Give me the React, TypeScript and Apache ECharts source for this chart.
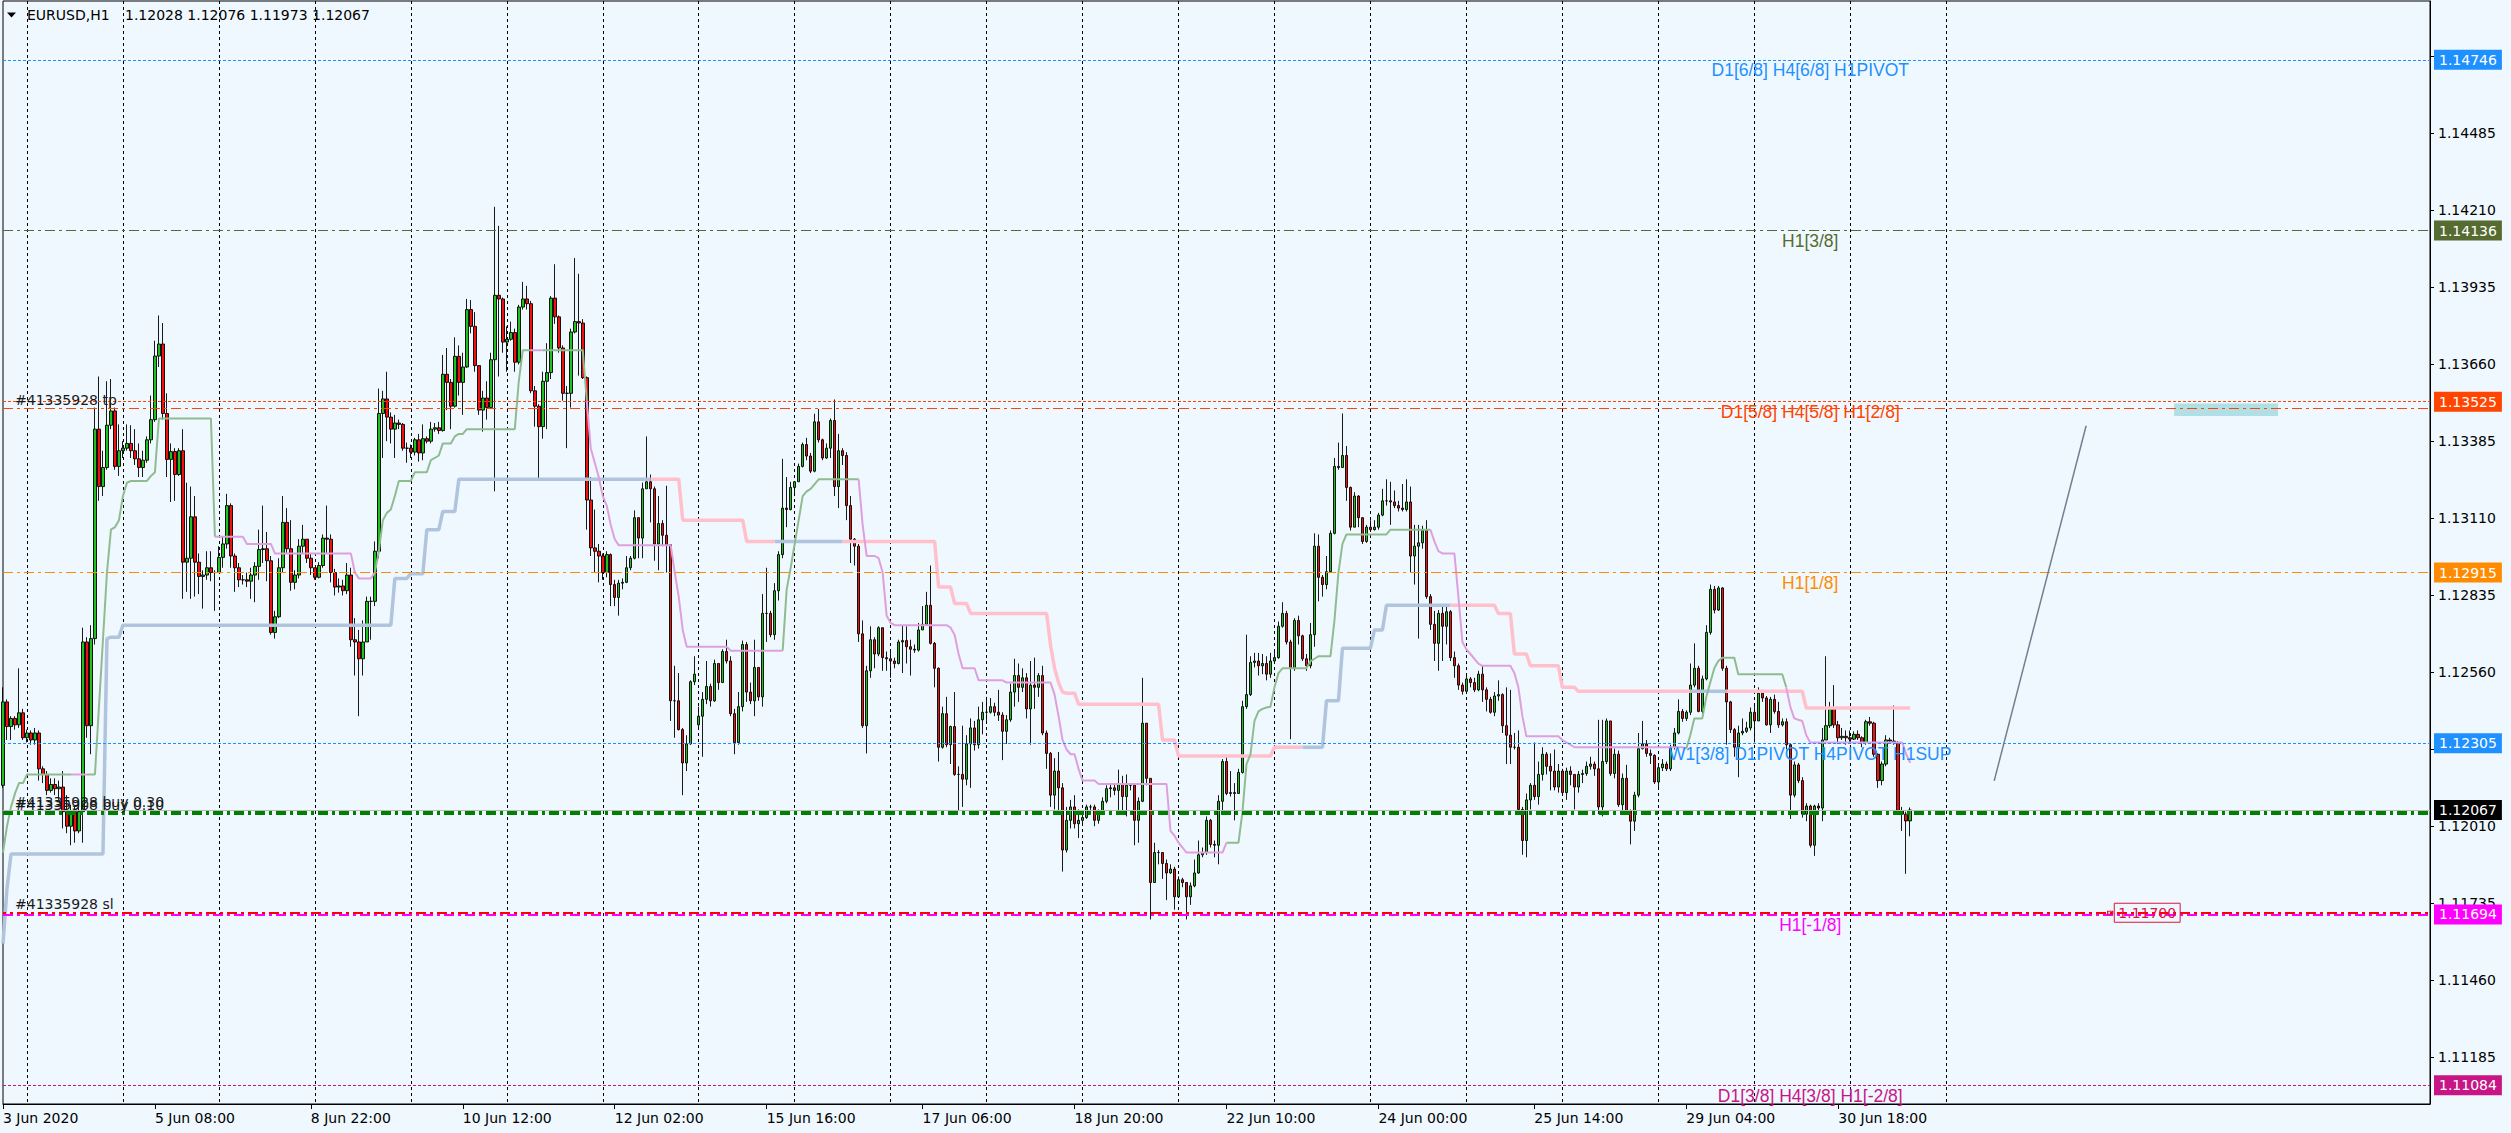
import React, { useEffect, useRef } from 'react';
import * as echarts from 'echarts';

const FONT = "'DejaVu Sans', sans-serif";
const LABEL_FONT = "'Liberation Sans', Arial, sans-serif";

// ---------------- data ----------------
const symbolName = 'EURUSD,H1';
const firstOpen = 1.12155;
const gapOpens: Record<number, number> = { 174: 1.12371 };

const closes = [
  1.12453, 1.12365, 1.12394, 1.12371, 1.12414, 1.12325, 1.12342, 1.12317, 1.12342, 1.12214,
  1.12194, 1.12137, 1.12158, 1.12143, 1.12149, 1.12061, 1.12009, 1.12061, 1.11992, 1.12061,
  1.12667, 1.12368, 1.12679, 1.13427, 1.13222, 1.13290, 1.13441, 1.13492, 1.13294, 1.13350,
  1.13359, 1.13376, 1.13350, 1.13321, 1.13290, 1.13316, 1.13389, 1.13461, 1.13688, 1.13731,
  1.13483, 1.13319, 1.13347, 1.13265, 1.13350, 1.12952, 1.12966, 1.13114, 1.12952, 1.12901,
  1.12906, 1.12932, 1.12915, 1.12915, 1.12969, 1.13017, 1.13154, 1.12974, 1.12932, 1.12889,
  1.12889, 1.12884, 1.12906, 1.12937, 1.12997, 1.13000, 1.12957, 1.12701, 1.12757, 1.12932,
  1.13094, 1.13000, 1.12880, 1.12906, 1.13009, 1.13034, 1.12966, 1.12932, 1.12898, 1.12940,
  1.13038, 1.13034, 1.12915, 1.12863, 1.12867, 1.12850, 1.12906, 1.12675, 1.12667, 1.12607,
  1.12667, 1.12812, 1.12812, 1.12991, 1.13483, 1.13535, 1.13470, 1.13427, 1.13449, 1.13444,
  1.13359, 1.13359, 1.13345, 1.13389, 1.13342, 1.13393, 1.13384, 1.13427, 1.13432, 1.13422,
  1.13623, 1.13594, 1.13509, 1.13687, 1.13594, 1.13649, 1.13854, 1.13794, 1.13654, 1.13495,
  1.13538, 1.13504,
  1.13675, 1.13905, 1.13892, 1.13738, 1.13748, 1.13772, 1.13666, 1.13863, 1.13892, 1.13875,
  1.13564, 1.13509, 1.13436, 1.13598, 1.13629, 1.13895, 1.13828, 1.13717, 1.13555, 1.13555,
  1.13774, 1.13811, 1.13806, 1.13611, 1.13174, 1.13003, 1.12991, 1.12974, 1.12915, 1.12979,
  1.12872, 1.12826, 1.12877, 1.12880, 1.12932, 1.12966, 1.13111, 1.13038, 1.13214, 1.13239,
  1.13214, 1.13017, 1.13090, 1.13048, 1.13014, 1.12457, 1.12457, 1.12354, 1.12235, 1.12303,
  1.12525, 1.12552, 1.12402, 1.12462, 1.12508, 1.12457, 1.12590, 1.12522, 1.12633, 1.12599,
  1.12411, 1.12308, 1.12436, 1.12658, 1.12488, 1.12457, 1.12576, 1.12471, 1.12769, 1.12769,
  1.12693, 1.12850, 1.12979, 1.13145, 1.13140, 1.13219, 1.13239, 1.13294, 1.13372, 1.13331,
  1.13277, 1.13453, 1.13389, 1.13324, 1.13359, 1.13458, 1.13222, 1.13350, 1.13333, 1.13154,
  1.13034, 1.13009, 1.12696, 1.12368, 1.12564, 1.12675, 1.12624, 1.12718, 1.12611, 1.12607,
  1.12599, 1.12590, 1.12667, 1.12672, 1.12650, 1.12641, 1.12638, 1.12710, 1.12730, 1.12798,
  1.12662, 1.12573, 1.12291, 1.12411, 1.12300, 1.12365, 1.12194, 1.12194, 1.12177, 1.12303,
  1.12360, 1.12300, 1.12389, 1.12416, 1.12416, 1.12436, 1.12416, 1.12406, 1.12348, 1.12389,
  1.12488, 1.12547, 1.12505, 1.12539, 1.12428, 1.12513, 1.12505, 1.12547, 1.12342, 1.12269,
  1.12120, 1.12206, 1.12146, 1.11924, 1.12030, 1.12078, 1.12018, 1.12030, 1.12040, 1.12078,
  1.12078, 1.12030, 1.12061, 1.12098, 1.12143, 1.12146, 1.12137, 1.12160, 1.12115, 1.12155,
  1.12155, 1.12030, 1.12098, 1.12377, 1.12180, 1.11808, 1.11915, 1.11915, 1.11876, 1.11842,
  1.11856, 1.11757, 1.11818, 1.11808, 1.11757, 1.11796, 1.11842, 1.11907, 1.11915, 1.12030,
  1.11944, 1.11941, 1.12098, 1.12240, 1.12126, 1.12129, 1.12126, 1.12201, 1.12436, 1.12479,
  1.12594, 1.12599, 1.12582, 1.12590, 1.12552, 1.12599, 1.12611, 1.12723, 1.12769, 1.12667,
  1.12573, 1.12744, 1.12689, 1.12607, 1.12582, 1.12693, 1.13009, 1.12898, 1.12872, 1.12918,
  1.13055, 1.13294, 1.13290, 1.13333, 1.13219, 1.13077, 1.13188, 1.13111, 1.13026, 1.13077,
  1.13068, 1.13077, 1.13120, 1.13171, 1.13171, 1.13167, 1.13154, 1.13145, 1.13140, 1.13167,
  1.12974, 1.13009, 1.13021, 1.13065, 1.12829, 1.12730, 1.12662, 1.12769, 1.12723, 1.12775,
  1.12611, 1.12582, 1.12513, 1.12491, 1.12535, 1.12522, 1.12496, 1.12552, 1.12496, 1.12462,
  1.12416, 1.12474, 1.12479, 1.12368, 1.12334, 1.12291, 1.12291, 1.12069, 1.11958, 1.12103,
  1.12155, 1.12115, 1.12194, 1.12266, 1.12223, 1.12206, 1.12149, 1.12206, 1.12129, 1.12206,
  1.12194, 1.12149, 1.12194, 1.12197, 1.12223, 1.12231, 1.12214, 1.12078, 1.12240, 1.12385,
  1.12197, 1.12266, 1.12086, 1.12180, 1.12064, 1.12027, 1.12120, 1.12286, 1.12303, 1.12269,
  1.12262, 1.12167, 1.12218, 1.12231, 1.12214, 1.12291, 1.12342, 1.12419, 1.12394, 1.12416,
  1.12513, 1.12573, 1.12419, 1.12535, 1.12701, 1.12855, 1.12781, 1.12860, 1.12573, 1.12453,
  1.12354, 1.12291, 1.12342, 1.12348, 1.12360, 1.12416, 1.12385, 1.12484, 1.12467, 1.12371,
  1.12462, 1.12419, 1.12371, 1.12382, 1.12300, 1.12120, 1.12228, 1.12172, 1.12052, 1.12081,
  1.11941, 1.12081, 1.12074, 1.12317, 1.12368, 1.12428, 1.12371, 1.12325, 1.12330, 1.12325,
  1.12320, 1.12337, 1.12325, 1.12308, 1.12382, 1.12377, 1.12266, 1.12172, 1.12231, 1.12317,
  1.12313, 1.12308, 1.12064, 1.12052, 1.12028, 1.12067,
];

const highs = [
  1.12505, 1.12462, 1.12402, 1.12402, 1.12573, 1.12428, 1.12354, 1.12351, 1.12360, 1.12351,
  1.12223, 1.12206, 1.12180, 1.12180, 1.12172, 1.12206, 1.12120, 1.12086, 1.12078, 1.12086,
  1.12718, 1.12684, 1.12727, 1.13504, 1.13615, 1.13350, 1.13598, 1.13606, 1.13504, 1.13444,
  1.13384, 1.13444, 1.13441, 1.13427, 1.13376, 1.13350, 1.13401, 1.13547, 1.13743, 1.13833,
  1.13806, 1.13555, 1.13376, 1.13359, 1.13359, 1.13427, 1.13236, 1.13222, 1.13188, 1.12983,
  1.12923, 1.12991, 1.12991, 1.12923, 1.13009, 1.13043, 1.13196, 1.13162, 1.12983, 1.12949,
  1.12906, 1.12915, 1.12932, 1.12952, 1.13068, 1.13154, 1.13060, 1.12974, 1.12778, 1.12966,
  1.13188, 1.13145, 1.13102, 1.12923, 1.13034, 1.13085, 1.13031, 1.12983, 1.12923, 1.12952,
  1.13051, 1.13154, 1.13051, 1.12928, 1.12894, 1.12889, 1.12949, 1.12932, 1.12752, 1.12710,
  1.12744, 1.12829, 1.12829, 1.13026, 1.13572, 1.13564, 1.13632, 1.13487, 1.13478, 1.13461,
  1.13449, 1.13379, 1.13372, 1.13396, 1.13410, 1.13444, 1.13401, 1.13453, 1.13449, 1.13453,
  1.13692, 1.13717, 1.13606, 1.13755, 1.13726, 1.13700, 1.13892, 1.13888, 1.13845, 1.13598,
  1.13564, 1.13598,
  1.13700, 1.14221, 1.14153, 1.13897, 1.13794, 1.13811, 1.13786, 1.13871, 1.13953, 1.13939,
  1.13885, 1.13581, 1.13516, 1.13632, 1.13734, 1.13902, 1.14016, 1.13833, 1.13726, 1.13581,
  1.13786, 1.14038, 1.13982, 1.13820, 1.13615, 1.13256, 1.13140, 1.13017, 1.12983, 1.12991,
  1.12983, 1.12889, 1.12889, 1.12894, 1.12974, 1.12974, 1.13137, 1.13111, 1.13236, 1.13401,
  1.13265, 1.13222, 1.13188, 1.13102, 1.13225, 1.13014, 1.12582, 1.12556, 1.12360, 1.12334,
  1.12530, 1.12616, 1.12436, 1.12488, 1.12599, 1.12518, 1.12604, 1.12590, 1.12641, 1.12675,
  1.12616, 1.12428, 1.12488, 1.12672, 1.12667, 1.12522, 1.12675, 1.12573, 1.12838, 1.12932,
  1.12778, 1.12877, 1.12991, 1.13321, 1.13256, 1.13239, 1.13242, 1.13304, 1.13379, 1.13396,
  1.13342, 1.13482, 1.13499, 1.13393, 1.13376, 1.13465, 1.13533, 1.13410, 1.13359, 1.13345,
  1.13188, 1.13038, 1.13017, 1.12744, 1.12582, 1.12723, 1.12684, 1.12723, 1.12718, 1.12633,
  1.12633, 1.12611, 1.12675, 1.12727, 1.12723, 1.12675, 1.12658, 1.12735, 1.12795, 1.12846,
  1.12940, 1.12667, 1.12576, 1.12436, 1.12471, 1.12368, 1.12488, 1.12223, 1.12368, 1.12334,
  1.12394, 1.12385, 1.12436, 1.12453, 1.12471, 1.12467, 1.12450, 1.12496, 1.12416, 1.12406,
  1.12518, 1.12607, 1.12590, 1.12573, 1.12556, 1.12599, 1.12611, 1.12556, 1.12582, 1.12351,
  1.12274, 1.12252, 1.12274, 1.12163, 1.12078, 1.12103, 1.12120, 1.12069, 1.12061, 1.12086,
  1.12086, 1.12086, 1.12069, 1.12112, 1.12155, 1.12163, 1.12163, 1.12211, 1.12189, 1.12194,
  1.12163, 1.12149, 1.12112, 1.12539, 1.12371, 1.12180, 1.11950, 1.11924, 1.11915, 1.11890,
  1.11873, 1.11864, 1.11830, 1.11825, 1.11804, 1.11808, 1.11890, 1.11958, 1.11933, 1.12044,
  1.12035, 1.11958, 1.12120, 1.12249, 1.12257, 1.12206, 1.12163, 1.12214, 1.12457, 1.12693,
  1.12616, 1.12628, 1.12628, 1.12624, 1.12616, 1.12628, 1.12641, 1.12740, 1.12809, 1.12778,
  1.12675, 1.12752, 1.12761, 1.12693, 1.12624, 1.12735, 1.13055, 1.13051, 1.12906, 1.12974,
  1.13065, 1.13324, 1.13379, 1.13483, 1.13367, 1.13222, 1.13202, 1.13191, 1.13111, 1.13085,
  1.13102, 1.13102, 1.13128, 1.13214, 1.13248, 1.13239, 1.13208, 1.13171, 1.13231, 1.13248,
  1.13222, 1.13085, 1.13085, 1.13082, 1.13102, 1.12838, 1.12778, 1.12781, 1.12795, 1.12798,
  1.12781, 1.12633, 1.12590, 1.12522, 1.12547, 1.12542, 1.12539, 1.12564, 1.12582, 1.12505,
  1.12471, 1.12488, 1.12530, 1.12484, 1.12505, 1.12496, 1.12342, 1.12351, 1.12078, 1.12126,
  1.12163, 1.12308, 1.12240, 1.12291, 1.12274, 1.12269, 1.12283, 1.12231, 1.12214, 1.12218,
  1.12223, 1.12180, 1.12206, 1.12211, 1.12240, 1.12257, 1.12240, 1.12389, 1.12389, 1.12394,
  1.12385, 1.12286, 1.12279, 1.12197, 1.12228, 1.12069, 1.12132, 1.12342, 1.12385, 1.12317,
  1.12283, 1.12266, 1.12231, 1.12249, 1.12240, 1.12300, 1.12360, 1.12462, 1.12428, 1.12423,
  1.12590, 1.12662, 1.12582, 1.12547, 1.12727, 1.12872, 1.12867, 1.12867, 1.12863, 1.12582,
  1.12457, 1.12360, 1.12368, 1.12394, 1.12382, 1.12433, 1.12445, 1.12505, 1.12496, 1.12474,
  1.12471, 1.12479, 1.12453, 1.12394, 1.12394, 1.12303, 1.12240, 1.12235, 1.12184, 1.12091,
  1.12086, 1.12086, 1.12091, 1.12360, 1.12616, 1.12453, 1.12513, 1.12385, 1.12360, 1.12351,
  1.12351, 1.12348, 1.12351, 1.12330, 1.12389, 1.12399, 1.12382, 1.12269, 1.12240, 1.12334,
  1.12325, 1.12440, 1.12313, 1.12078, 1.12061, 1.12076,
];

const lows = [
  1.12146, 1.12317, 1.12317, 1.12354, 1.12360, 1.12317, 1.12308, 1.12300, 1.12300, 1.12172,
  1.12163, 1.12120, 1.12129, 1.12120, 1.12103, 1.12001, 1.11984, 1.11941, 1.11950, 1.11984,
  1.11950, 1.12325, 1.12266, 1.12658, 1.13171, 1.13188, 1.13282, 1.13427, 1.13282, 1.13260,
  1.13324, 1.13350, 1.13324, 1.13299, 1.13256, 1.13256, 1.13307, 1.13376, 1.13453, 1.13649,
  1.13461, 1.13256, 1.13167, 1.13171, 1.13260, 1.12821, 1.12846, 1.12821, 1.12829, 1.12838,
  1.12786, 1.12889, 1.12884, 1.12778, 1.12932, 1.12932, 1.13000, 1.12932, 1.12846, 1.12863,
  1.12872, 1.12863, 1.12821, 1.12809, 1.12889, 1.12949, 1.12884, 1.12693, 1.12679, 1.12752,
  1.12915, 1.12983, 1.12850, 1.12855, 1.12894, 1.12983, 1.12949, 1.12906, 1.12889, 1.12894,
  1.12932, 1.12983, 1.12880, 1.12833, 1.12843, 1.12833, 1.12838, 1.12650, 1.12547, 1.12402,
  1.12547, 1.12667, 1.12675, 1.12795, 1.12966, 1.13324, 1.13384, 1.13376, 1.13324, 1.13427,
  1.13350, 1.13307, 1.13324, 1.13333, 1.13311, 1.13316, 1.13376, 1.13376, 1.13418, 1.13410,
  1.13418, 1.13495, 1.13427, 1.13504, 1.13547, 1.13478, 1.13646, 1.13769, 1.13632, 1.13478,
  1.13418, 1.13461,
  1.13512, 1.13205, 1.13615, 1.13700, 1.13632, 1.13743, 1.13632, 1.13658, 1.13854, 1.13854,
  1.13555, 1.13436, 1.13248, 1.13393, 1.13427, 1.13606, 1.13803, 1.13700, 1.13529, 1.13359,
  1.13504, 1.13769, 1.13618, 1.13606, 1.13068, 1.12974, 1.12915, 1.12880, 1.12889, 1.12898,
  1.12795, 1.12795, 1.12761, 1.12855, 1.12877, 1.12923, 1.12962, 1.12966, 1.12966, 1.13214,
  1.13094, 1.12957, 1.12923, 1.13009, 1.12915, 1.12385, 1.12325, 1.12351, 1.12120, 1.12206,
  1.12300, 1.12513, 1.12360, 1.12257, 1.12445, 1.12436, 1.12453, 1.12496, 1.12522, 1.12590,
  1.12402, 1.12266, 1.12300, 1.12419, 1.12453, 1.12445, 1.12402, 1.12457, 1.12436, 1.12667,
  1.12684, 1.12675, 1.12815, 1.12966, 1.13077, 1.13137, 1.13188, 1.13248, 1.13290, 1.13316,
  1.13270, 1.13273, 1.13379, 1.13316, 1.13321, 1.13324, 1.13188, 1.13145, 1.13299, 1.13102,
  1.12949, 1.12940, 1.12667, 1.12360, 1.12269, 1.12539, 1.12573, 1.12616, 1.12564, 1.12564,
  1.12539, 1.12573, 1.12587, 1.12556, 1.12590, 1.12547, 1.12628, 1.12633, 1.12710, 1.12727,
  1.12658, 1.12505, 1.12240, 1.12286, 1.12291, 1.12231, 1.12189, 1.12064, 1.12078, 1.12155,
  1.12146, 1.12279, 1.12286, 1.12337, 1.12385, 1.12411, 1.12402, 1.12385, 1.12245, 1.12303,
  1.12382, 1.12436, 1.12453, 1.12488, 1.12394, 1.12300, 1.12428, 1.12471, 1.12334, 1.12214,
  1.12078, 1.12069, 1.12061, 1.11847, 1.11915, 1.12001, 1.12001, 1.11967, 1.12018, 1.12035,
  1.12061, 1.12009, 1.12018, 1.12052, 1.12091, 1.12112, 1.12120, 1.12052, 1.12052, 1.12044,
  1.12137, 1.11941, 1.11950, 1.12095, 1.12155, 1.11676, 1.11808, 1.11873, 1.11821, 1.11745,
  1.11839, 1.11711, 1.11787, 1.11791, 1.11676, 1.11728, 1.11791, 1.11839, 1.11898, 1.11907,
  1.11933, 1.11898, 1.11873, 1.12061, 1.12120, 1.12115, 1.12030, 1.12126, 1.12197, 1.12428,
  1.12474, 1.12576, 1.12547, 1.12552, 1.12530, 1.12539, 1.12590, 1.12607, 1.12718, 1.12658,
  1.12320, 1.12564, 1.12658, 1.12599, 1.12564, 1.12573, 1.12650, 1.12812, 1.12829, 1.12855,
  1.12915, 1.13051, 1.13282, 1.13290, 1.13171, 1.13065, 1.13085, 1.13077, 1.13017, 1.13021,
  1.13060, 1.13065, 1.13068, 1.13116, 1.13154, 1.13085, 1.13145, 1.13133, 1.13133, 1.13133,
  1.12915, 1.12872, 1.12679, 1.13000, 1.12821, 1.12710, 1.12599, 1.12564, 1.12599, 1.12658,
  1.12599, 1.12539, 1.12496, 1.12479, 1.12496, 1.12505, 1.12488, 1.12491, 1.12453, 1.12419,
  1.12411, 1.12402, 1.12457, 1.12342, 1.12231, 1.12231, 1.12283, 1.12061, 1.11907, 1.11898,
  1.12069, 1.12103, 1.12086, 1.12172, 1.12194, 1.12137, 1.12137, 1.12129, 1.12120, 1.12103,
  1.12155, 1.12069, 1.12129, 1.12163, 1.12189, 1.12211, 1.12189, 1.12052, 1.12044, 1.12231,
  1.12189, 1.12180, 1.12078, 1.12061, 1.12052, 1.11944, 1.11992, 1.12112, 1.12283, 1.12257,
  1.12231, 1.12160, 1.12149, 1.12206, 1.12206, 1.12206, 1.12283, 1.12337, 1.12382, 1.12385,
  1.12406, 1.12505, 1.12416, 1.12411, 1.12530, 1.12693, 1.12769, 1.12778, 1.12564, 1.12300,
  1.12342, 1.12257, 1.12184, 1.12334, 1.12342, 1.12351, 1.12308, 1.12389, 1.12453, 1.12368,
  1.12342, 1.12411, 1.12360, 1.12365, 1.12283, 1.12035, 1.12112, 1.12163, 1.12040, 1.12027,
  1.11933, 1.11903, 1.12061, 1.12027, 1.12354, 1.12360, 1.12360, 1.12303, 1.12317, 1.12300,
  1.12308, 1.12317, 1.12317, 1.12291, 1.12300, 1.12368, 1.12257, 1.12146, 1.12155, 1.12223,
  1.12303, 1.12300, 1.12061, 1.11992, 1.11839, 1.11973,
];

// fast step indicator: [first bar, level, state u=support(green) d=resistance(plum)]
const fastRuns: [number, number, string][] = [
  [0, 1.11915, 'u'], [1, 1.12009, 'u'], [2, 1.12078, 'u'], [3, 1.12126, 'u'], [4, 1.12163, 'u'], [6, 1.12194, 'u'],
  [17, 1.12194, 'd'], [21, 1.12194, 'u'],
  [24, 1.12436, 'u'], [25, 1.12675, 'u'], [26, 1.12915, 'u'], [27, 1.13068, 'u'], [28, 1.13077, 'u'], [29, 1.13102, 'u'],
  [30, 1.13188, 'u'], [31, 1.13236, 'u'], [32, 1.13242, 'u'], [37, 1.1326, 'u'], [38, 1.13273, 'u'], [39, 1.13465, 'u'],
  [53, 1.13043, 'd'], [61, 1.13017, 'd'], [68, 1.12983, 'd'], [88, 1.12915, 'd'], [89, 1.12894, 'd'],
  [93, 1.12915, 'u'], [94, 1.12991, 'u'], [95, 1.13102, 'u'], [96, 1.13128, 'u'], [97, 1.1314, 'u'], [98, 1.13188, 'u'],
  [99, 1.13242, 'u'], [103, 1.13273, 'u'], [107, 1.13316, 'u'], [108, 1.13324, 'u'], [109, 1.13333, 'u'], [110, 1.13376, 'u'],
  [113, 1.13401, 'u'], [114, 1.1341, 'u'], [116, 1.13427, 'u'], [129, 1.13598, 'u'], [130, 1.13709, 'u'],
  [132, 1.13709, 'd'], [135, 1.13709, 'u'],
  [146, 1.1353, 'd'], [147, 1.13359, 'd'], [148, 1.13307, 'd'], [149, 1.13256, 'd'], [150, 1.13188, 'd'], [151, 1.13154, 'd'],
  [152, 1.13085, 'd'], [153, 1.13034, 'd'], [154, 1.13012, 'd'], [168, 1.12915, 'd'], [169, 1.12829, 'd'], [170, 1.1271, 'd'],
  [171, 1.1265, 'd'], [182, 1.12636, 'd'],
  [195, 1.12636, 'u'], [196, 1.12855, 'u'], [197, 1.12932, 'u'], [198, 1.13017, 'u'], [199, 1.13102, 'u'], [200, 1.13188, 'u'],
  [201, 1.13205, 'u'], [202, 1.13214, 'u'], [203, 1.13231, 'u'], [204, 1.13248, 'u'],
  [214, 1.13248, 'd'], [215, 1.13085, 'd'], [216, 1.12974, 'd'], [219, 1.12966, 'd'], [220, 1.12915, 'd'], [221, 1.12761, 'd'],
  [222, 1.12735, 'd'], [223, 1.12727, 'd'], [237, 1.12718, 'd'], [238, 1.12693, 'd'], [239, 1.12624, 'd'], [240, 1.12573, 'd'],
  [244, 1.1253, 'd'], [251, 1.12522, 'd'], [263, 1.12479, 'd'], [264, 1.12402, 'd'], [265, 1.12317, 'd'], [266, 1.12283, 'd'],
  [267, 1.12266, 'd'], [269, 1.12214, 'd'], [270, 1.12172, 'd'], [274, 1.1216, 'd'], [292, 1.11992, 'd'], [293, 1.11975, 'd'],
  [294, 1.1195, 'd'], [295, 1.11933, 'd'], [296, 1.11915, 'd'],
  [306, 1.1195, 'u'], [310, 1.12061, 'u'], [311, 1.12231, 'u'], [312, 1.12266, 'u'], [313, 1.12385, 'u'], [314, 1.12419, 'u'],
  [315, 1.12428, 'u'], [316, 1.12433, 'u'], [317, 1.12436, 'u'], [318, 1.12505, 'u'], [319, 1.12556, 'u'], [320, 1.12573, 'u'],
  [327, 1.12599, 'u'], [328, 1.12607, 'u'], [329, 1.12616, 'u'], [333, 1.12744, 'u'], [334, 1.12915, 'u'], [335, 1.13017, 'u'],
  [336, 1.13051, 'u'], [347, 1.13068, 'u'],
  [357, 1.13068, 'd'], [358, 1.13026, 'd'], [359, 1.12991, 'd'], [360, 1.12983, 'd'], [364, 1.12829, 'd'], [365, 1.12667, 'd'],
  [366, 1.12641, 'd'], [367, 1.12624, 'd'], [368, 1.12607, 'd'], [369, 1.1259, 'd'], [370, 1.12582, 'd'], [378, 1.12556, 'd'],
  [379, 1.12505, 'd'], [380, 1.12402, 'd'], [381, 1.1233, 'd'], [390, 1.12317, 'd'], [391, 1.12308, 'd'], [392, 1.123, 'd'],
  [393, 1.12291, 'd'],
  [421, 1.12286, 'u'], [422, 1.12334, 'u'], [423, 1.12394, 'u'], [426, 1.12471, 'u'], [427, 1.12522, 'u'], [428, 1.12573, 'u'],
  [429, 1.12599, 'u'], [430, 1.12611, 'u'], [434, 1.12552, 'u'],
  [446, 1.12505, 'd'], [447, 1.12436, 'd'], [448, 1.12394, 'd'], [449, 1.12389, 'd'], [450, 1.12385, 'd'], [451, 1.12334, 'd'],
  [452, 1.12308, 'd'], [476, 1.12266, 'd'], [477, 1.12235, 'd'],
];

// slow step indicator: [first bar, level, state u=support(steel blue) d=resistance(pink)]
const slowRuns: [number, number, string][] = [
  [0, 1.1159, 'u'], [1, 1.11787, 'u'], [2, 1.1191, 'u'], [26, 1.12679, 'u'], [27, 1.12684, 'u'], [30, 1.12727, 'u'],
  [98, 1.12894, 'u'], [102, 1.12911, 'u'], [106, 1.13068, 'u'], [110, 1.13133, 'u'], [114, 1.13248, 'u'],
  [162, 1.13248, 'd'], [170, 1.13102, 'd'], [186, 1.13026, 'd'], [193, 1.13026, 'u'], [210, 1.13026, 'd'],
  [234, 1.12863, 'd'], [238, 1.12804, 'd'], [242, 1.12769, 'd'], [262, 1.12655, 'd'], [263, 1.12573, 'd'],
  [264, 1.12522, 'd'], [265, 1.12488, 'd'], [266, 1.12484, 'd'], [269, 1.12445, 'd'], [290, 1.12317, 'd'],
  [294, 1.1226, 'd'], [318, 1.12291, 'd'],
  [325, 1.12291, 'u'], [331, 1.12457, 'u'], [335, 1.12645, 'u'], [343, 1.1271, 'u'], [346, 1.12798, 'u'],
  [362, 1.12798, 'd'], [374, 1.12769, 'd'], [378, 1.12624, 'd'], [382, 1.12582, 'd'], [390, 1.12505, 'd'],
  [394, 1.12491, 'd'], [422, 1.12491, 'u'], [431, 1.12491, 'd'], [451, 1.12431, 'd'],
];

// time axis
const timeLabels = ['3 Jun 2020', '5 Jun 08:00', '8 Jun 22:00', '10 Jun 12:00', '12 Jun 02:00', '15 Jun 16:00',
  '17 Jun 06:00', '18 Jun 20:00', '22 Jun 10:00', '24 Jun 00:00', '25 Jun 14:00', '29 Jun 04:00', '30 Jun 18:00'];
const timeLabelBars = [0, 38, 77, 115, 153, 191, 230, 268, 306, 344, 383, 421, 459];
const futureSlots = 130; // empty space right of last bar (chart shift)

// price axis (1.12285 tick label is hidden behind the 1.12305 price box)
const yTicks = [1.11185, 1.1146, 1.11735, 1.1201, 1.12285, 1.1256, 1.12835, 1.1311, 1.13385, 1.1366, 1.13935, 1.1421, 1.14485, 1.1476];
const yTickLabels = [1.11185, 1.1146, 1.11735, 1.1201, 1.1256, 1.12835, 1.1311, 1.13385, 1.1366, 1.13935, 1.1421, 1.14485, 1.1476];
const yMin = 1.11017;
const yMax = 1.14956;

// levels (Murrey-style)
const levelPrices = [1.14746, 1.14136, 1.13525, 1.12915, 1.12305, 1.11694, 1.11084];
const levelNames = ['D1[6/8] H4[6/8] H1PIVOT', 'H1[3/8]', 'D1[5/8] H4[5/8] H1[2/8]', 'H1[1/8]',
  'W1[3/8] D1PIVOT H4PIVOT H1SUP', 'H1[-1/8]', 'D1[3/8] H4[3/8] H1[-2/8]'];
const levelColors = ['#1E90FF', '#556B2F', '#FF4500', '#FF8C00', '#1E90FF', '#FF00FF', '#C71585'];
const levelStyles = ['dot', 'dashdot', 'dot', 'dashdot', 'dot', 'dashdot2', 'dot'];
const levelLabelBar = 451.5;

// order lines
const orderPrices = [1.135, 1.12062, 1.12053, 1.117];
const orderTexts = ['#41335928 tp', '#41335928 buy 0.30', '#41335908 buy 0.10', '#41335928 sl'];
const orderColors = ['#FF4500', '#008000', '#008000', '#FF0000'];
const bidPrice = 1.12067;

// chart objects
const trendFrom: [number, number] = [498, 1.12171];
const trendTo: [number, number] = [521, 1.13439];
const boxFrom: [number, number] = [543, 1.13519];
const boxTo: [number, number] = [569, 1.13474];
const slLabelAnchor: [number, number] = [527, 1.117];

// ---------------- helpers ----------------
const DASH: Record<string, any> = {
  dot: { type: [3, 2], width: 1 },
  dashdot: { type: [10, 4, 3, 4], width: 1 },
  dashdot2: { type: [10, 4, 3, 4], width: 2 },
};

function expandRuns(runs: [number, number, string][], n: number) {
  const val: number[] = [];
  const dir: string[] = [];
  let r = 0;
  for (let i = 0; i < n; i++) {
    while (r + 1 < runs.length && runs[r + 1][0] <= i) r++;
    val.push(runs[r][1]);
    dir.push(runs[r][2]);
  }
  const pick = (s: string) => val.map((v, i) => (dir[i] === s || (i > 0 && dir[i - 1] === s) ? v : null));
  return { up: pick('u'), dn: pick('d') };
}

function buildOption() {
  const n = closes.length;
  const opens = closes.map((_, i) => (i === 0 ? firstOpen : gapOpens[i] ?? closes[i - 1]));
  const candleData = closes.map((c, i) => {
    const o = opens[i];
    return [o, c, Math.min(lows[i], o, c), Math.max(highs[i], o, c)];
  });
  const categories = Array.from({ length: n + futureSlots }, (_, i) => String(i));
  const labelAt = new Map<number, string>(timeLabelBars.map((b, k) => [b, timeLabels[k]]));
  const fast = expandRuns(fastRuns, n);
  const slow = expandRuns(slowRuns, n);

  const boxLabel = (p: number, bg: string) => ({
    show: true,
    position: 'end',
    distance: 4,
    formatter: p.toFixed(5),
    color: '#FFFFFF',
    backgroundColor: bg,
    padding: [3, 5, 2, 5],
    fontFamily: FONT,
    fontSize: 14,
    lineHeight: 15,
  });

  const levelLines = levelPrices.map((p, k) => ({
    yAxis: p,
    lineStyle: { color: levelColors[k], ...DASH[levelStyles[k]] },
    label: boxLabel(p, levelColors[k]),
  }));

  const orderLines = orderPrices.map((p, k) => ({
    yAxis: p,
    lineStyle: { color: orderColors[k], type: [10, 4, 3, 4], width: k === 0 ? 1 : 2, dashOffset: k === 3 ? 7 : 0 },
    label: {
      show: true,
      position: 'insideStartTop',
      distance: [12, 2],
      formatter: orderTexts[k],
      color: '#1A1A1A',
      fontFamily: FONT,
      fontSize: 14,
    },
  }));

  const bidLine = {
    yAxis: bidPrice,
    lineStyle: { color: '#B8B8B8', type: 'solid', width: 1 },
    label: boxLabel(bidPrice, '#000000'),
  };

  const trendLine = [
    { coord: trendFrom, lineStyle: { color: '#708090', type: 'solid', width: 1.5 }, label: { show: false } },
    { coord: trendTo },
  ];

  const levelNameMarks = levelPrices.map((p, k) => ({
    coord: [levelLabelBar, p],
    symbol: 'circle',
    symbolSize: 1,
    itemStyle: { color: 'rgba(0,0,0,0)' },
    label: {
      show: true,
      position: 'bottom',
      distance: 1,
      formatter: levelNames[k],
      color: levelColors[k],
      fontFamily: LABEL_FONT,
      fontSize: 17.5,
    },
  }));

  const slMark = {
    coord: slLabelAnchor,
    symbol: 'rect',
    symbolSize: [5, 3],
    itemStyle: { color: 'rgba(0,0,0,0)', borderColor: '#DC143C', borderWidth: 1 },
    label: {
      show: true,
      position: 'right',
      distance: 1,
      formatter: orderPrices[3].toFixed(5),
      color: '#DC143C',
      borderColor: '#DC143C',
      borderWidth: 1,
      padding: [3, 4, 2, 4],
      fontFamily: FONT,
      fontSize: 14,
    },
  };

  const last = n - 1;
  const headerValues = [opens[last], candleData[last][3], candleData[last][2], closes[last]]
    .map((v) => v.toFixed(5))
    .join(' ');

  const lineSeries = (name: string, data: (number | null)[], color: string, width: number, z: number) => ({
    name,
    type: 'line',
    data,
    symbol: 'none',
    showSymbol: false,
    connectNulls: false,
    silent: true,
    z,
    lineStyle: { color, width },
    emphasis: { disabled: true },
  });

  return {
    animation: false,
    backgroundColor: '#F0F8FF',
    grid: { left: 2, right: 81, top: 1, bottom: 29, show: true, borderColor: '#000', borderWidth: 1, backgroundColor: 'transparent' },
    xAxis: {
      type: 'category',
      data: categories,
      boundaryGap: false,
      axisLine: { show: true, lineStyle: { color: '#000', width: 1 } },
      axisTick: { show: true, interval: (i: number) => labelAt.has(i), length: 5, lineStyle: { color: '#000' } },
      axisLabel: {
        show: true,
        interval: (i: number) => labelAt.has(i),
        formatter: (_v: string, i: number) => labelAt.get(i) ?? '',
        align: 'left',
        margin: 7,
        fontFamily: FONT,
        fontSize: 14,
        color: '#000',
      },
      splitLine: {
        show: true,
        interval: (i: number) => i >= 6 && i <= 486 && (i - 6) % 24 === 0,
        lineStyle: { color: '#000', type: [3, 3], width: 1 },
      },
    },
    yAxis: {
      type: 'value',
      position: 'right',
      min: yMin,
      max: yMax,
      axisLine: { show: true, lineStyle: { color: '#000', width: 1 } },
      axisTick: { show: true, customValues: yTicks, length: 4, lineStyle: { color: '#000' } },
      axisLabel: {
        show: true,
        customValues: yTickLabels,
        formatter: (v: number) => v.toFixed(5),
        margin: 8,
        fontFamily: FONT,
        fontSize: 14,
        color: '#000',
      },
      splitLine: { show: false },
    },
    graphic: [
      { type: 'polygon', shape: { points: [[7, 12.5], [16, 12.5], [11.5, 17.5]] }, style: { fill: '#000' }, z: 100 },
      { type: 'text', x: 27, y: 15, style: { text: symbolName, fontFamily: FONT, fontSize: 14, fill: '#000', verticalAlign: 'middle' }, z: 100 },
      { type: 'text', x: 125, y: 15, style: { text: headerValues, fontFamily: FONT, fontSize: 14, fill: '#000', verticalAlign: 'middle' }, z: 100 },
    ],
    series: [
      {
        name: 'objects',
        type: 'line',
        data: [],
        silent: true,
        z: 1,
        markArea: { silent: true, itemStyle: { color: '#B0E0E6' }, data: [[{ coord: boxFrom }, { coord: boxTo }]] },
      },
      {
        name: 'EURUSD',
        type: 'candlestick',
        data: candleData,
        barWidth: 3,
        z: 2,
        silent: true,
        itemStyle: { color: '#1FC01F', color0: '#F01010', borderColor: '#000', borderColor0: '#000', borderWidth: 0.9 },
      },
      lineSeries('slowUp', slow.up, '#B0C4DE', 3.5, 3),
      lineSeries('slowDn', slow.dn, '#FFC0CB', 3.5, 3),
      lineSeries('fastUp', fast.up, '#8FBC8F', 2, 4),
      lineSeries('fastDn', fast.dn, '#DDA0DD', 2, 4),
      {
        name: 'levels',
        type: 'line',
        data: [],
        silent: true,
        z: 5,
        markLine: {
          silent: true,
          precision: 6,
          symbol: ['none', 'none'],
          animation: false,
          data: [...levelLines, ...orderLines, bidLine, trendLine],
        },
        markPoint: {
          silent: true,
          animation: false,
          data: [...levelNameMarks, slMark],
        },
      },
    ],
  };
}

export default function App() {
  const ref = useRef<HTMLDivElement>(null);
  useEffect(() => {
    if (!ref.current) return;
    const chart = echarts.init(ref.current, null, { renderer: 'svg' });
    chart.setOption(buildOption() as any);
    return () => chart.dispose();
  }, []);
  return (
    <div
      ref={ref}
      style={{ position: 'fixed', left: 0, top: 0, width: 2511, height: 1133, background: '#F0F8FF' }}
    />
  );
}
